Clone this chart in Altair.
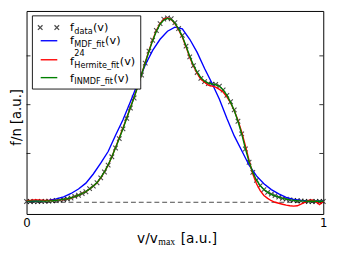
import altair as alt
import pandas as pd

# ---- data ----
x_grid = [round(i / 80, 4) for i in range(81)]

f_data = [0.004, 0.004, 0.004, 0.004, 0.005, 0.005, 0.006, 0.0075, 0.009, 0.011,
          0.014, 0.017, 0.022, 0.030, 0.036, 0.045, 0.054, 0.070, 0.083, 0.100,
          0.125, 0.155, 0.190, 0.233, 0.278, 0.326, 0.376, 0.430, 0.483, 0.534,
          0.591, 0.652, 0.713, 0.774, 0.830, 0.880, 0.915, 0.938, 0.945, 0.940,
          0.920, 0.890, 0.855, 0.800, 0.745, 0.700, 0.665, 0.635, 0.618, 0.608,
          0.605, 0.604, 0.595, 0.575, 0.548, 0.515, 0.473, 0.415, 0.350, 0.273,
          0.205, 0.153, 0.113, 0.085, 0.065, 0.051, 0.042, 0.034, 0.026, 0.020,
          0.016, 0.0125, 0.010, 0.008, 0.0065, 0.005, 0.004, 0.004, 0.004, 0.004,
          0.004]

f_inmdf = [0.006, 0.006, 0.006, 0.006, 0.006, 0.006, 0.007, 0.008, 0.010, 0.012,
           0.015, 0.018, 0.023, 0.029, 0.036, 0.045, 0.055, 0.068, 0.083, 0.101,
           0.126, 0.156, 0.191, 0.233, 0.279, 0.327, 0.377, 0.430, 0.484, 0.537,
           0.594, 0.654, 0.714, 0.774, 0.828, 0.876, 0.912, 0.934, 0.942, 0.937,
           0.918, 0.888, 0.850, 0.800, 0.748, 0.702, 0.666, 0.638, 0.620, 0.610,
           0.606, 0.603, 0.594, 0.576, 0.549, 0.513, 0.470, 0.415, 0.350, 0.275,
           0.207, 0.153, 0.113, 0.085, 0.065, 0.051, 0.041, 0.033, 0.026, 0.020,
           0.016, 0.012, 0.010, 0.008, 0.007, 0.006, 0.005, 0.005, 0.005, 0.005,
           0.005]

f_hermite = [0.008, 0.010, 0.012, 0.012, 0.011, 0.010, 0.009, 0.009, 0.010, 0.012,
             0.014, 0.017, 0.022, 0.029, 0.036, 0.045, 0.054, 0.068, 0.083, 0.100,
             0.125, 0.155, 0.190, 0.233, 0.280, 0.330, 0.380, 0.433, 0.486, 0.538,
             0.594, 0.655, 0.716, 0.776, 0.832, 0.880, 0.915, 0.938, 0.944, 0.936,
             0.915, 0.884, 0.846, 0.796, 0.742, 0.698, 0.660, 0.630, 0.615, 0.600,
             0.595, 0.590, 0.578, 0.565, 0.540, 0.510, 0.470, 0.420, 0.360, 0.290,
             0.215, 0.145, 0.095, 0.060, 0.035, 0.020, 0.008, 0.000, -0.005, -0.010,
             -0.015, -0.018, -0.020, -0.018, -0.010, 0.000, 0.010, 0.012, 0.003, -0.012,
             0.005]

x_mdf = [round(i / 40, 4) for i in range(41)]
f_mdf = [0.005, 0.005, 0.007, 0.010, 0.017, 0.028, 0.045, 0.068, 0.098, 0.145,
         0.200, 0.260, 0.343, 0.423, 0.515, 0.610, 0.703, 0.778, 0.835, 0.876,
         0.897, 0.888, 0.835, 0.768, 0.685, 0.610, 0.528, 0.430, 0.340, 0.265,
         0.190, 0.135, 0.095, 0.065, 0.043, 0.025, 0.015, 0.010, 0.007, 0.005,
         0.005]

y_ticks = [0.25, 0.5, 0.75]
x_labels = [0, 1]

FONT = "DejaVu Sans"
W, H = 304, 208

df_data = pd.DataFrame({"x": x_grid, "y": f_data})
df_inmdf = pd.DataFrame({"x": x_grid, "y": f_inmdf})
df_herm = pd.DataFrame({"x": x_grid, "y": f_hermite})
df_mdf = pd.DataFrame({"x": x_mdf, "y": f_mdf})
df_ticks = pd.DataFrame({"y": y_ticks})

xscale = alt.Scale(domain=[0, 1], nice=False, zero=False)
yscale = alt.Scale(domain=[-0.06, 0.98], nice=False, zero=False)
X = alt.X("x:Q", scale=xscale,
          axis=alt.Axis(values=x_labels, format="d", labelFontSize=12, labelFont=FONT,
                        labelColor="black", labelFlush=False, ticks=False, domain=False,
                        grid=False, title="", labelPadding=4))
Y = alt.Y("y:Q", scale=yscale,
          axis=alt.Axis(labels=False, ticks=False, domain=False, grid=False, title=""))

XSHAPE = "M-1,-1L1,1M-1,1L1,-1"

points = alt.Chart(df_data).mark_point(shape=XSHAPE, filled=False, color="black", size=22,
                                       strokeWidth=1.1).encode(x=X, y=Y)
zero_line = alt.Chart(pd.DataFrame({"y": [0]})).mark_rule(
    color="black", strokeDash=[5, 3], strokeWidth=0.9, opacity=0.8).encode(y="y:Q")
blue = alt.Chart(df_mdf).mark_line(color="#0000ff", strokeWidth=1.4).encode(x="x:Q", y="y:Q")
red = alt.Chart(df_herm).mark_line(color="#ff0000", strokeWidth=1.4).encode(x="x:Q", y="y:Q")
green = alt.Chart(df_inmdf).mark_line(color="#008000", strokeWidth=1.4).encode(x="x:Q", y="y:Q")

ticks_l = alt.Chart(df_ticks).mark_rule(color="black", strokeWidth=0.8).encode(
    y="y:Q", x=alt.value(0), x2=alt.value(4))
ticks_r = alt.Chart(df_ticks).mark_rule(color="black", strokeWidth=0.8).encode(
    y="y:Q", x=alt.value(W - 4), x2=alt.value(W))

# ---- legend (drawn by hand to get sub/superscripts) ----
OX, OY = 27, 8  # page position of the plot origin


def txt(s, px, py, size, font=FONT, align="left", angle=0, baseline="alphabetic"):
    kw = dict(align=align, baseline=baseline, fontSize=size, font=font, color="black")
    if angle:
        kw["angle"] = angle
    return alt.Chart(pd.DataFrame({"t": [s]})).mark_text(**kw).encode(
        x=alt.value(px - OX), y=alt.value(py - OY), text="t:N")


box = alt.Chart(pd.DataFrame({"a": [0]})).mark_rect(
    fill="white", stroke="black", strokeWidth=0.9).encode(
    x=alt.value(33 - OX), x2=alt.value(144 - OX), y=alt.value(13 - OY), y2=alt.value(88 - OY))


def leg_pt(px):
    return alt.Chart(pd.DataFrame({"a": [0]})).mark_point(
        shape=XSHAPE, filled=False, color="black", size=22, strokeWidth=1.3).encode(
        x=alt.value(px - OX), y=alt.value(25 - OY))


def leg_line(color, py):
    return alt.Chart(pd.DataFrame({"a": [0]})).mark_rule(color=color, strokeWidth=1.4).encode(
        x=alt.value(41.5 - OX), x2=alt.value(58.5 - OX), y=alt.value(py - OY))


MAIN, SUB = 11.5, 8.3
rows = [
    ("data", None, 28.5, 95.0),
    ("MDF_fit", None, 42.3, 107.5),
    ("Hermite_fit", "24", 63.5, 122.5),
    ("INMDF_fit", None, 80.3, 116.0),
]
legend_layers = [box, leg_pt(41), leg_pt(58),
                 leg_line("#0000ff", 38.5), leg_line("#ff0000", 58.0), leg_line("#008000", 76.3)]
for sub, sup, bl, vx in rows:
    legend_layers.append(txt("f", 71.5, bl, MAIN))
    legend_layers.append(txt(sub, 76.0, bl + 3.0, SUB))
    if sup:
        legend_layers.append(txt(sup, 76.0, bl - 9.5, SUB))
    legend_layers.append(txt("(v)", vx, bl, MAIN))

# ---- axis titles ----
titles = [
    txt("v/v", 161.5, 245.5, 14, align="right"),
    txt("max", 162.0, 248.0, 10, font="Liberation Serif"),
    txt("[a.u.]", 185.0, 245.5, 14),
    txt("f/n [a.u.]", 17.0, 117, 13.5, align="center", angle=270, baseline="middle"),
]

chart = alt.layer(
    points, zero_line, blue, red, green, ticks_l, ticks_r, *legend_layers, *titles
).properties(
    width=W, height=H,
    autosize=alt.AutoSizeParams(type="none"),
    padding={"left": 19, "top": 0, "right": 11, "bottom": 40},
).configure_view(stroke="black", strokeWidth=1).configure_axis(grid=False)

chart.save("out.html", embed_options={"renderer": "svg", "actions": False})
